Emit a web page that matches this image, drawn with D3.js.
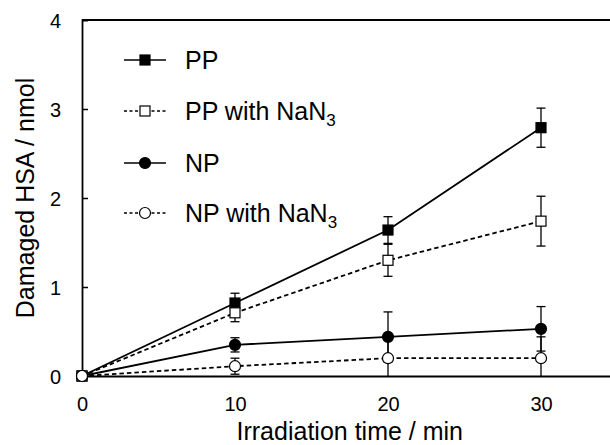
<!DOCTYPE html>
<html><head><meta charset="utf-8">
<script src="https://cdn.jsdelivr.net/npm/d3@7"></script>
<style>body{margin:0;background:#fff}svg{display:block}text{font-family:"Liberation Sans",Arial,sans-serif;fill:#000}</style>
</head><body><svg id="c" width="610" height="445"></svg>
<script>
const times = [0, 10, 20, 30];
const ppValues = [0, 0.82, 1.64, 2.79];
const ppErr = [0, 0.11, 0.15, 0.22];
const ppNaN3Values = [0, 0.71, 1.30, 1.74];
const ppNaN3Err = [0, 0.10, 0.18, 0.28];
const npValues = [0, 0.35, 0.44, 0.53];
const npErr = [0, 0.08, 0.28, 0.25];
const npNaN3Values = [0, 0.11, 0.20, 0.20];
const npNaN3Err = [0, 0.09, 0.25, 0.24];
const xTicks = [0, 10, 20, 30];
const yTicks = [0, 1, 2, 3, 4];

const series = [
  {name:"PP", sub:null, v:ppValues, e:ppErr, shape:"square", fill:"#000", dash:null},
  {name:"PP with NaN", sub:"3", v:ppNaN3Values, e:ppNaN3Err, shape:"square", fill:"#fff", dash:"4.5,3"},
  {name:"NP", sub:null, v:npValues, e:npErr, shape:"circle", fill:"#000", dash:null},
  {name:"NP with NaN", sub:"3", v:npNaN3Values, e:npNaN3Err, shape:"circle", fill:"#fff", dash:"4.5,3"}
];

const svg = d3.select("#c");
const x = d3.scaleLinear().domain([0, 35]).range([82, 617.5]);
const y = d3.scaleLinear().domain([0, 4]).range([376, 20]);

svg.append("line").attr("x1", x(0)).attr("x2", 610).attr("y1", y(4)).attr("y2", y(4)).attr("stroke","#000").attr("stroke-width",1.8);

const yAxis = d3.axisLeft(y).tickValues(yTicks).tickSize(-6).tickPadding(21).tickFormat(d3.format("d"));
const gy = svg.append("g").attr("transform", `translate(${x(0)},0)`).call(yAxis);
gy.attr("font-size", null).attr("font-family", null);
gy.select(".domain").attr("stroke-width",1.8);
gy.selectAll(".tick line").attr("stroke-width",1.5).filter(d => d===0 || d===4).remove();
gy.selectAll("text").style("font-size","20px").attr("dy","0.36em");

const xAxis = d3.axisBottom(x).tickValues(xTicks).tickSize(0).tickPadding(21).tickFormat(d3.format("d"));
const gx = svg.append("g").attr("transform", `translate(0,${y(0)})`).call(xAxis);
gx.attr("font-size", null).attr("font-family", null);
gx.select(".domain").attr("stroke-width",1.8);
gx.selectAll("text").style("font-size","20px");

svg.append("text").attr("x", x(17.5)).attr("y", 440).attr("text-anchor","middle").style("font-size","25px").text("Irradiation time / min");
svg.append("text").attr("transform", `translate(34,${y(2)}) rotate(-90)`).attr("text-anchor","middle").style("font-size","25px").text("Damaged HSA / nmol");

const line = d3.line().x((d,i)=>x(times[i])).y(d=>y(d));

series.forEach(s => {
  const g = svg.append("g");
  s.v.forEach((v,i) => {
    if (!s.e[i]) return;
    const cx = x(times[i]);
    g.append("line").attr("x1",cx).attr("x2",cx).attr("y1",y(v+s.e[i])).attr("y2",y(Math.max(0,v-s.e[i]))).attr("stroke","#000").attr("stroke-width",1.3);
    [v+s.e[i], v-s.e[i]].forEach(t => {
      if (t < 0) return;
      g.append("line").attr("x1",cx-4.5).attr("x2",cx+4.5).attr("y1",y(t)).attr("y2",y(t)).attr("stroke","#000").attr("stroke-width",1.3);
    });
  });
});

series.forEach(s => {
  svg.append("path").attr("d", line(s.v)).attr("fill","none").attr("stroke","#000").attr("stroke-width",1.8).attr("stroke-dasharray", s.dash);
});

function marker(g, shape, fill, cx, cy) {
  if (shape === "square") {
    g.append("rect").attr("x",cx-5).attr("y",cy-5).attr("width",10).attr("height",10).attr("fill",fill).attr("stroke","#000").attr("stroke-width",1.2);
  } else {
    g.append("circle").attr("cx",cx).attr("cy",cy).attr("r",5.5).attr("fill",fill).attr("stroke","#000").attr("stroke-width",1.2);
  }
}

series.forEach(s => {
  const g = svg.append("g");
  s.v.forEach((v,i) => marker(g, s.shape, s.fill, x(times[i]), y(v)));
});

const legY = [60, 111, 163, 213];
series.forEach((s, k) => {
  const g = svg.append("g");
  const ly = legY[k];
  g.append("line").attr("x1",124).attr("x2",166).attr("y1",ly).attr("y2",ly).attr("stroke","#000").attr("stroke-width",1.6).attr("stroke-dasharray", s.dash ? "3,2.5" : null);
  marker(g, s.shape, s.fill, 145, ly);
  const t = g.append("text").attr("x",185).attr("y",ly+9).style("font-size","25px");
  t.append("tspan").text(s.name);
  if (s.sub) t.append("tspan").style("font-size","17px").attr("dy",6).text(s.sub);
});
</script></body></html>
